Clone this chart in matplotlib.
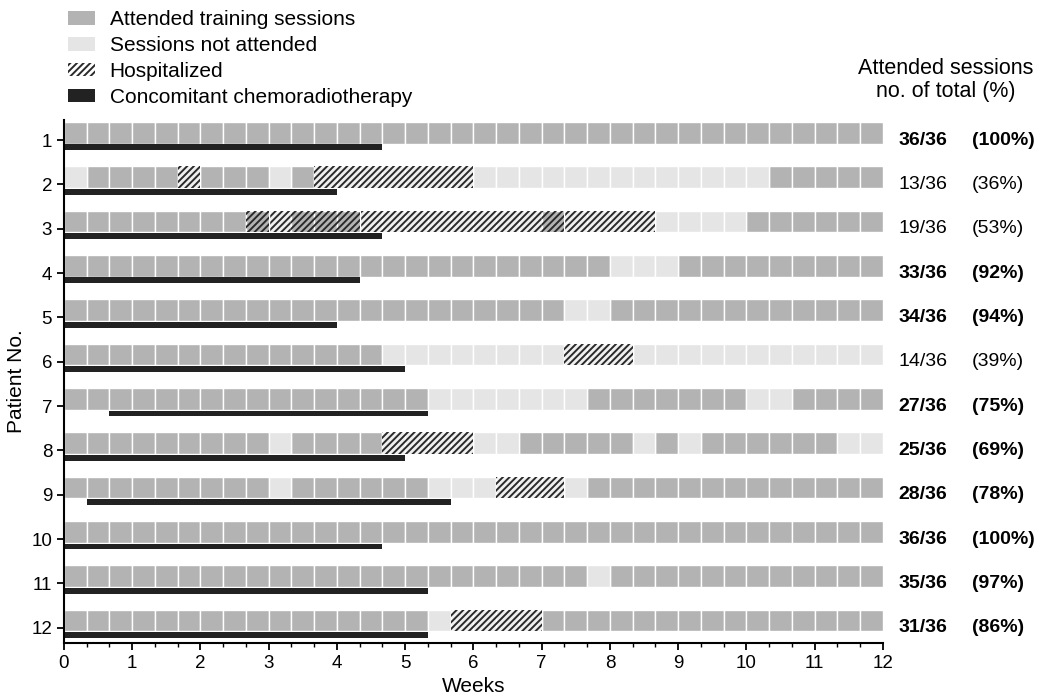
import numpy as np
import matplotlib
matplotlib.use("Agg")
import matplotlib.pyplot as plt
from matplotlib.patches import Patch
from matplotlib.ticker import MultipleLocator
from matplotlib.transforms import blended_transform_factory

plt.rcParams["font.family"] = ["Liberation Sans", "DejaVu Sans"]
plt.rcParams["font.size"] = 13
plt.rcParams["hatch.linewidth"] = 1.4

# one character per session (3 per week, 12 weeks):
# A attended, N not attended, H hospitalized, B hospitalized but attended
patients = list(range(1, 13))
sessions = [
    "A" * 36,
    "N" + "A" * 4 + "H" + "A" * 3 + "N" + "A" + "H" * 7 + "N" * 13 + "A" * 5,
    "A" * 8 + "BHBBB" + "H" * 8 + "B" + "H" * 4 + "N" * 4 + "A" * 6,
    "A" * 24 + "N" * 3 + "A" * 9,
    "A" * 22 + "N" * 2 + "A" * 12,
    "A" * 14 + "N" * 8 + "H" * 3 + "N" * 11,
    "A" * 16 + "N" * 7 + "A" * 7 + "N" * 2 + "A" * 4,
    "A" * 9 + "N" + "A" * 4 + "H" * 4 + "N" * 2 + "A" * 5 + "N" + "A" + "N" + "A" * 6 + "N" * 2,
    "A" * 9 + "N" + "A" * 6 + "N" * 3 + "H" * 3 + "N" + "A" * 13,
    "A" * 36,
    "A" * 23 + "N" + "A" * 12,
    "A" * 16 + "N" + "H" * 4 + "A" * 15,
]
# concomitant chemoradiotherapy, in session units
chemo_start = [0, 0, 0, 0, 0, 0, 2, 0, 1, 0, 0, 0]
chemo_end = [14, 12, 14, 13, 12, 15, 16, 15, 17, 14, 16, 16]
bold_rows = [True, False, False, True, True, False, True, True, True, True, True, True]

C_ATT = "#b3b3b3"
C_NOT = "#e5e5e5"
C_HOSP = "#efefef"
C_HATCH = "#2a2a2a"
C_CHEMO = "#222222"
HATCH = "/////"
SESS = 1.0 / 3.0

fig = plt.figure(figsize=(10.4, 6.98), dpi=100)
ax = fig.add_axes([0.0615, 0.079, 0.7875, 0.749])

face = {"A": C_ATT, "N": C_NOT, "H": C_HOSP, "B": C_ATT}

for p, seq in zip(patients, sessions):
    for code, fc in face.items():
        lefts = np.array([i for i, c in enumerate(seq) if c == code]) * SESS
        if len(lefts) == 0:
            continue
        ax.barh(p - 0.41, SESS, left=lefts, height=0.49, align="edge",
                color=fc, edgecolor="white", linewidth=1.0)
        if code in "HB":
            # hatch layer on top; hatch takes the edge colour
            ax.barh(p - 0.41, SESS, left=lefts, height=0.49, align="edge",
                    facecolor="none", edgecolor=C_HATCH, linewidth=0,
                    hatch=HATCH)

for p, s, e in zip(patients, chemo_start, chemo_end):
    ax.barh(p + 0.1, (e - s) * SESS, left=s * SESS, height=0.13,
            align="edge", color=C_CHEMO, linewidth=0)

ax.set_xlim(0, 12)
ax.set_ylim(12.34, 0.55)
ax.set_yticks(patients)
ax.xaxis.set_major_locator(MultipleLocator(1))
ax.xaxis.set_minor_locator(MultipleLocator(SESS))
ax.tick_params(axis="both", which="major", length=5, width=1.3,
               direction="out", labelsize=13.5)
ax.tick_params(axis="x", which="minor", length=3, width=1.0, direction="out")
for side in ("top", "right"):
    ax.spines[side].set_visible(False)
for side in ("left", "bottom"):
    ax.spines[side].set_linewidth(1.5)
ax.set_xlabel("Weeks", fontsize=15, labelpad=4)
ax.set_ylabel("Patient No.", fontsize=15, labelpad=4)

# attended counts on the right
tr = blended_transform_factory(fig.transFigure, ax.transData)
for p, seq, b in zip(patients, sessions, bold_rows):
    n = seq.count("A") + seq.count("B")
    w = "bold" if b else "normal"
    ax.text(0.8635, p, f"{n}/{len(seq)}", transform=tr, va="center",
            ha="left", fontweight=w, fontsize=14)
    ax.text(0.9346, p, f"({round(100 * n / len(seq))}%)", transform=tr,
            va="center", ha="left", fontweight=w, fontsize=14)
fig.text(0.909, 0.885, "Attended sessions\nno. of total (%)", ha="center",
         va="center", linespacing=1.1, fontsize=15.5)

handles = [
    Patch(facecolor=C_ATT, edgecolor="none", label="Attended training sessions"),
    Patch(facecolor=C_NOT, edgecolor="none", label="Sessions not attended"),
    Patch(facecolor="none", edgecolor=C_HATCH, linewidth=0, hatch=HATCH,
          label="Hospitalized"),
    Patch(facecolor=C_CHEMO, edgecolor="none", label="Concomitant chemoradiotherapy"),
]
fig.legend(handles=handles, loc="upper left", bbox_to_anchor=(0.051, 1.006),
           frameon=False, fontsize=15, handlelength=1.3, handleheight=0.6,
           handletextpad=0.72, labelspacing=0.33, borderpad=0.2)

fig.savefig("out.png", dpi=100)
